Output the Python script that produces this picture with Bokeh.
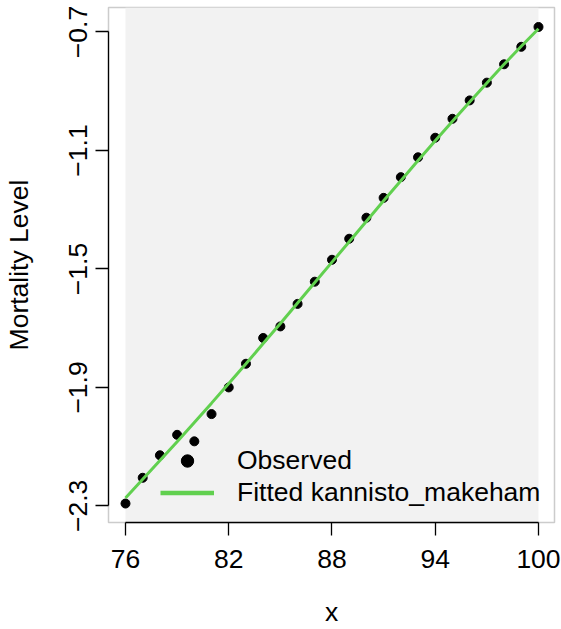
import numpy as np
from bokeh.plotting import figure
from bokeh.models import (ColumnDataSource, BoxAnnotation, FixedTicker, Legend, LegendItem,
                          CustomJSTickFormatter, Range1d)
from bokeh.embed import file_html
from bokeh.resources import INLINE

# ---- data ----
ages = [76, 77, 78, 79, 80, 81, 82, 83, 84, 85, 86, 87, 88,
        89, 90, 91, 92, 93, 94, 95, 96, 97, 98, 99, 100]
observed = [-2.292, -2.205, -2.129, -2.060, -2.082, -1.990, -1.900, -1.820, -1.733,
            -1.694, -1.618, -1.543, -1.469, -1.398, -1.327, -1.260, -1.190, -1.123,
            -1.057, -0.993, -0.931, -0.871, -0.809, -0.750, -0.683]
fitted = [-2.273, -2.210, -2.147, -2.083, -2.018, -1.953, -1.887, -1.820, -1.752,
          -1.684, -1.615, -1.546, -1.477, -1.408, -1.339, -1.270, -1.202, -1.134,
          -1.067, -1.001, -0.936, -0.872, -0.809, -0.748, -0.689]
x_ticks = [76, 82, 88, 94, 100]
y_ticks = [-2.3, -1.9, -1.5, -1.1, -0.7]
legend_labels = ["Observed", "Fitted kannisto_makeham"]
x_label = "x"
y_label = "Mortality Level"

FONT = "Liberation Sans"
FS = "26.5px"
GREEN = "#61D04F"

src = ColumnDataSource(dict(x=ages, obs=observed, fit=fitted))

p = figure(width=561, height=629, output_backend="svg", toolbar_location=None,
           x_range=Range1d(75.012, 100.93), y_range=Range1d(-2.356, -0.6173),
           min_border_left=108, min_border_right=7, min_border_top=7, min_border_bottom=103,
           background_fill_color="white", border_fill_color="white",
           outline_line_color="#CCCCCC", outline_line_width=1.5)

p.xgrid.visible = False
p.ygrid.visible = False

# gray panel over the age range
p.add_layout(BoxAnnotation(left=min(ages), right=max(ages), fill_color="#F2F2F2",
                           fill_alpha=1.0, line_alpha=0, level="underlay"))

pts = p.scatter("x", "obs", source=src, size=9, color="black", marker="circle")
p.line("x", "fit", source=src, line_color=GREEN, line_width=3)

# legend-only line renderer (thicker line in the legend, nothing drawn in the plot)
leg_src = ColumnDataSource(dict(x=[np.nan], y=[np.nan]))
leg_line = p.line("x", "y", source=leg_src, line_color=GREEN, line_width=4.5)

legend = Legend(items=[LegendItem(label=legend_labels[0], renderers=[pts]),
                       LegendItem(label=legend_labels[1], renderers=[leg_line])],
                location=(52, 14), glyph_width=54, glyph_height=31, label_standoff=23,
                spacing=1, padding=0, margin=0, border_line_alpha=0,
                background_fill_alpha=0, label_text_font=FONT, label_text_font_size=FS,
                label_text_color="black")
p.add_layout(legend)

fmt = CustomJSTickFormatter(code="return (tick < 0 ? '\\u2212' : '') + Math.abs(tick).toFixed(tick % 1 === 0 ? 0 : 1);")

for ax in (p.xaxis[0], p.yaxis[0]):
    ax.major_tick_in = 0
    ax.major_tick_out = 13
    ax.minor_tick_in = 0
    ax.minor_tick_out = 0
    ax.axis_line_color = "black"
    ax.axis_line_width = 1.3
    ax.major_tick_line_color = "black"
    ax.major_tick_line_width = 1.3
    ax.major_label_text_font = FONT
    ax.major_label_text_font_size = FS
    ax.major_label_text_color = "black"
    ax.axis_label_text_font = FONT
    ax.axis_label_text_font_size = FS
    ax.axis_label_text_font_style = "normal"
    ax.axis_label_text_color = "black"
    ax.formatter = fmt

p.xaxis[0].ticker = FixedTicker(ticks=x_ticks)
p.yaxis[0].ticker = FixedTicker(ticks=y_ticks)
p.xaxis[0].bounds = (min(x_ticks), max(x_ticks))
p.yaxis[0].bounds = (min(y_ticks), max(y_ticks))
p.xaxis[0].axis_label = x_label
p.yaxis[0].axis_label = y_label
p.xaxis[0].major_label_standoff = 14
p.xaxis[0].axis_label_standoff = 26
p.yaxis[0].major_label_standoff = 8
p.yaxis[0].axis_label_standoff = 33
p.yaxis[0].major_label_orientation = "vertical"

open("out.html", "w").write(file_html(p, INLINE))
